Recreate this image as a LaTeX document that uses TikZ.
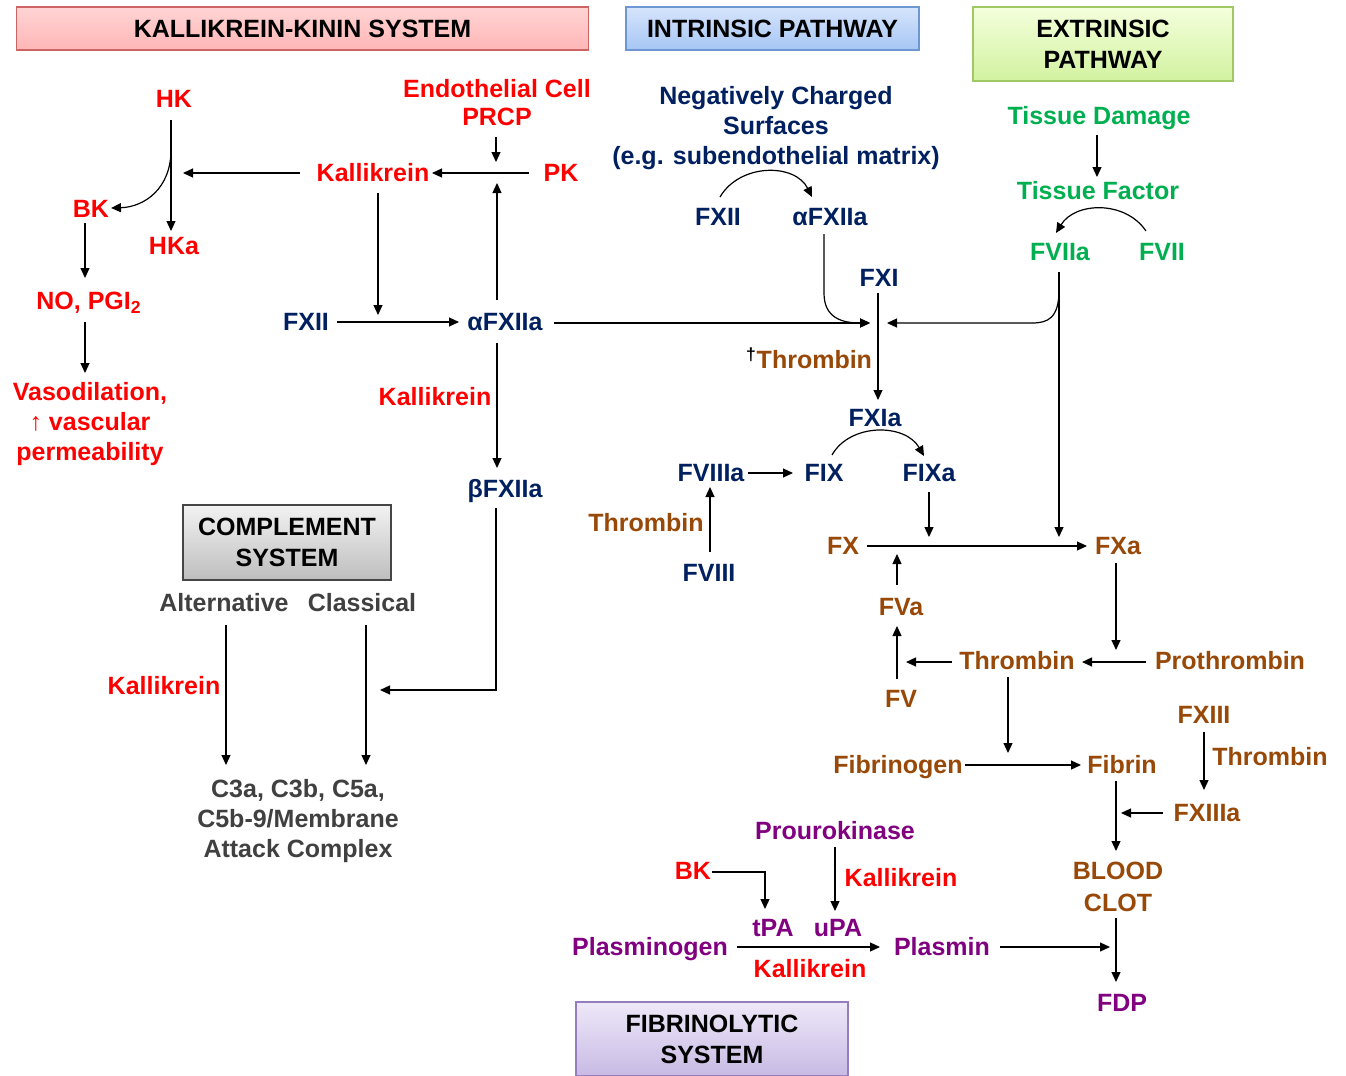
\documentclass[tikz,border=0pt]{standalone}
\usepackage{fontspec}
\setmainfont{Liberation Sans}
\usetikzlibrary{arrows.meta}
\definecolor{kkred}{RGB}{255,0,0}
\definecolor{navy}{RGB}{0,32,96}
\definecolor{grn}{RGB}{0,176,80}
\definecolor{brn}{RGB}{152,72,7}
\definecolor{purp}{RGB}{128,0,128}
\definecolor{dgray}{RGB}{64,64,64}
\tikzset{
  lbl/.style={font=\fontsize{12.5}{15.2}\selectfont\bfseries, inner sep=0pt, align=center, text height=8.8pt, text depth=0pt},
  kk/.style={lbl, text=kkred},
  intr/.style={lbl, text=navy},
  ext/.style={lbl, text=grn},
  coag/.style={lbl, text=brn},
  fib/.style={lbl, text=purp},
  comp/.style={lbl, text=dgray},
  hdr/.style={lbl, text height={}, text depth={}, text=black, draw, line width=0.8pt, font=\fontsize{12.5}{15.5}\selectfont\bfseries},
  arr/.style={-{Triangle[length=5pt,width=4.5pt]}, line width=0.6pt},
  ln/.style={line width=0.6pt}
}
\begin{document}
\begin{tikzpicture}[x=0.5pt,y=-0.5pt]
\useasboundingbox (0,0) rectangle (1346,1076);
\fill[white] (0,0) rectangle (1346,1076);

% ---------- headers ----------
\node[hdr, draw={rgb,255:red,205;green,100;blue,100}, top color={rgb,255:red,255;green,212;blue,212}, bottom color={rgb,255:red,255;green,182;blue,182}, minimum width=286pt, minimum height=21.5pt] (KKH) at (302.5,28.5) {KALLIKREIN-KININ SYSTEM};
\node[hdr, draw={rgb,255:red,110;green,150;blue,210}, top color={rgb,255:red,214;green,228;blue,252}, bottom color={rgb,255:red,166;green,198;blue,244}, minimum width=146.5pt, minimum height=21.5pt] (IntH) at (772.5,28.5) {INTRINSIC PATHWAY};
\node[hdr, draw={rgb,255:red,160;green,200;blue,100}, top color={rgb,255:red,244;green,255;blue,220}, bottom color={rgb,255:red,210;green,242;blue,160}, minimum width=130pt, minimum height=37pt] (ExtH) at (1103,44) {EXTRINSIC\\PATHWAY};
\node[hdr, draw={rgb,255:red,70;green,70;blue,70}, top color={rgb,255:red,242;green,242;blue,242}, bottom color={rgb,255:red,190;green,190;blue,190}, minimum width=104pt, minimum height=37.5pt] (CompH) at (287,542.5) {COMPLEMENT\\SYSTEM};
\node[hdr, draw={rgb,255:red,150;green,125;blue,190}, top color={rgb,255:red,238;green,232;blue,248}, bottom color={rgb,255:red,200;green,186;blue,228}, minimum width=136pt, minimum height=37pt] (FibH) at (712,1039) {FIBRINOLYTIC\\SYSTEM};

% ---------- kallikrein-kinin ----------
\node[kk] (HK) at (174,99) {HK};
\node[kk, font=\fontsize{12.5}{14}\selectfont\bfseries] (ECP) at (497,117) {Endothelial Cell\\PRCP};
\node[kk] (Kal1) at (373,173) {Kallikrein};
\node[kk] (PK) at (561,173) {PK};
\node[kk] (BK) at (91,209) {BK};
\node[kk] (HKa) at (174,246) {HKa};
\node[kk] (NO) at (89,301) {NO, PGI\textsubscript{2}};
\node[kk] (Vaso) at (90,452) {Vasodilation,\\{\mdseries↑} vascular\\permeability};
\node[intr] (FXIIk) at (306,322) {FXII};
\node[intr] (aFXIIa) at (505,322) {αFXIIa};
\node[kk] (Kal2) at (435,397) {Kallikrein};
\node[intr] (bFXIIa) at (505,489) {βFXIIa};

\draw[arr] (171,120) -- (171,231);
\draw[arr] (171,150) .. controls (171,188) and (145,207) .. (111,208);
\draw[arr] (300,173) -- (183,173);
\draw[arr] (529,173) -- (432,173);
\draw[arr] (496,137) -- (496,162);
\draw[arr] (497,300) -- (497,183);
\draw[arr] (378,193) -- (378,315);
\draw[arr] (337,322) -- (459,322);
\draw[arr] (85,223) -- (85,278);
\draw[arr] (85,322) -- (85,373);
\draw[arr] (554,323) -- (870,323);
\draw[arr] (497,343) -- (497,468);
\draw[arr] (496,508) -- (496,690) -- (380,690);

% ---------- complement ----------
\node[comp] (Alt) at (224,603) {Alternative};
\node[comp] (Cls) at (362,603) {Classical};
\node[kk] (Kal3) at (164,686) {Kallikrein};
\node[comp] (C3) at (298,849) {C3a, C3b, C5a,\\C5b-9/Membrane\\Attack Complex};
\draw[arr] (226,625) -- (226,765);
\draw[arr] (366,625) -- (366,765);

% ---------- intrinsic ----------
\node[intr] (Neg) at (776,156) {Negatively Charged\\Surfaces\\(e.g. subendothelial matrix)};
\node[intr] (FXIIi) at (718,217) {FXII};
\node[intr] (aFXIIai) at (830,217) {αFXIIa};
\node[intr] (FXI) at (879,278) {FXI};
\node[coag] (Thr1) at (809,360) {\textcolor{black}{\textsuperscript{†}}Thrombin};
\node[intr] (FXIa) at (875,418) {FXIa};
\node[intr] (FVIIIa) at (711,473) {FVIIIa};
\node[intr] (FIX) at (824,473) {FIX};
\node[intr] (FIXa) at (929,473) {FIXa};
\node[coag] (Thr2) at (646,523) {Thrombin};
\node[intr] (FVIII) at (709,573) {FVIII};

\draw[arr] (720,197) .. controls (740,163) and (795,163) .. (812,197);
\draw[arr] (824,234) -- (824,293) .. controls (824,318) and (842,323) .. (870,323);
\draw[arr] (878,293) -- (878,400);
\draw[arr] (832,455) .. controls (850,423) and (905,423) .. (924,456);
\draw[arr] (748,473) -- (793,473);
\draw[arr] (710,552) -- (710,487);
\draw[arr] (929,492) -- (929,537);

% ---------- extrinsic ----------
\node[ext] (TD) at (1099,116) {Tissue Damage};
\node[ext] (TF) at (1098,191) {Tissue Factor};
\node[ext] (FVIIa) at (1060,252) {FVIIa};
\node[ext] (FVII) at (1162,252) {FVII};
\draw[arr] (1097,135) -- (1097,177);
\draw[arr] (1146,231) .. controls (1125,200) and (1075,202) .. (1056,233);
\draw[arr] (1059,272) -- (1059,537);
\draw[arr] (1059,290) .. controls (1059,318) and (1048,323) .. (1032,323) -- (887,323);

% ---------- common pathway ----------
\node[coag] (FX) at (843,546) {FX};
\node[coag] (FXa) at (1118,546) {FXa};
\node[coag] (FVa) at (901,607) {FVa};
\node[coag] (FV) at (901,699) {FV};
\node[coag] (Thr3) at (1017,661) {Thrombin};
\node[coag] (Proth) at (1230,661) {Prothrombin};
\node[coag] (Fbg) at (898,765) {Fibrinogen};
\node[coag] (Fbn) at (1122,765) {Fibrin};
\node[coag] (FXIII) at (1204,715) {FXIII};
\node[coag] (Thr4) at (1270,757) {Thrombin};
\node[coag] (FXIIIa) at (1207,813) {FXIIIa};
\node[coag, font=\fontsize{12.5}{16}\selectfont\bfseries] (Clot) at (1118,903) {BLOOD\\CLOT};
\node[fib] (FDP) at (1122,1003) {FDP};

\draw[arr] (867,546) -- (1087,546);
\draw[arr] (897,585) -- (897,554);
\draw[arr] (897,679) -- (897,626);
\draw[arr] (952,662) -- (906,662);
\draw[arr] (1146,662) -- (1082,662);
\draw[arr] (1116,563) -- (1116,650);
\draw[arr] (1008,677) -- (1008,753);
\draw[arr] (965,765) -- (1081,765);
\draw[arr] (1204,732) -- (1204,790);
\draw[arr] (1163,813) -- (1121,813);
\draw[arr] (1116,781) -- (1116,851);
\draw[arr] (1116,918) -- (1116,982);
\draw[arr] (1000,947) -- (1110,947);

% ---------- fibrinolytic ----------
\node[fib] (Prou) at (835,831) {Prourokinase};
\node[kk] (BK2) at (693,871) {BK};
\node[kk] (Kal4) at (901,878) {Kallikrein};
\node[fib] (tPA) at (773,928) {tPA};
\node[fib] (uPA) at (838,928) {uPA};
\node[fib] (Plg) at (650,947) {Plasminogen};
\node[kk] (Kal5) at (810,969) {Kallikrein};
\node[fib] (Pls) at (942,947) {Plasmin};
\draw[arr] (712,872) -- (765,872) -- (765,909);
\draw[arr] (835,847) -- (835,911);
\draw[arr] (737,947) -- (880,947);
\end{tikzpicture}
\end{document}
